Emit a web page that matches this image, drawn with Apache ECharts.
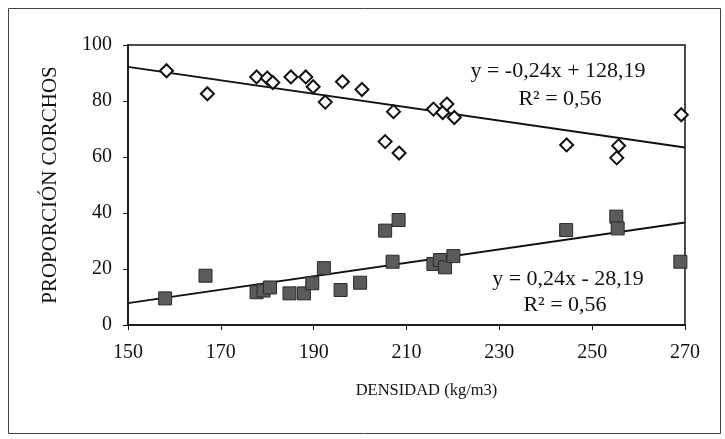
<!DOCTYPE html>
<html>
<head>
<meta charset="utf-8">
<script src="https://cdn.jsdelivr.net/npm/echarts@6/dist/echarts.min.js"></script>
<style>
  html, body { margin: 0; padding: 0; background: #fff; }
  #chart { width: 725px; height: 439px; }
</style>
</head>
<body>
<div id="chart"></div>
<script>
// Open diamonds: proportion (upper group)
const diamondX = [158.3, 167.1, 177.7, 180.0, 181.2, 185.1, 188.3, 189.9, 192.5, 196.2, 200.4, 205.4, 207.2, 208.4, 215.8, 217.8, 218.7, 220.3, 244.5, 255.3, 255.7, 269.2];
const diamondY = [90.8, 82.6, 88.6, 88.2, 86.6, 88.6, 88.6, 85.1, 79.6, 86.9, 84.1, 65.5, 76.2, 61.4, 77.1, 75.9, 78.9, 74.1, 64.3, 59.7, 64.0, 75.1];
// Filled squares: proportion (lower group)
const squareX = [158.0, 166.7, 177.7, 179.2, 180.6, 184.8, 187.9, 189.7, 192.2, 195.8, 200.0, 205.4, 207.0, 208.3, 215.8, 217.2, 218.3, 220.1, 244.4, 255.2, 255.5, 269.0];
const squareY = [9.5, 17.6, 11.7, 12.3, 13.4, 11.3, 11.3, 14.9, 20.3, 12.5, 15.1, 33.7, 22.6, 37.5, 21.8, 23.2, 20.6, 24.6, 33.9, 38.7, 34.5, 22.6];
// Trend lines: [slope, intercept]
const trendDiamond = [-0.24, 128.19];
const trendSquare = [0.24, -28.19];
const xRange = [150, 270];
const xTicks = ['150', '170', '190', '210', '230', '250', '270'];
const yTicks = ['0', '20', '40', '60', '80', '100'];
const eqDiamond = ['y = -0,24x + 128,19', 'R² = 0,56'];
const eqSquare = ['y = 0,24x - 28,19', 'R² = 0,56'];

const pair = (xs, ys) => xs.map((x, i) => [x, ys[i]]);
const trend = (c) => xRange.map(x => [x, c[0] * x + c[1]]);

const FONT = '"Liberation Serif", "DejaVu Serif", serif';
const chart = echarts.init(document.getElementById('chart'), null, { renderer: 'canvas' });

chart.setOption({
  animation: false,
  backgroundColor: '#fff',
  grid: { left: 128, right: 40, top: 45, bottom: 114, show: true, borderColor: '#111', borderWidth: 1.5, backgroundColor: 'transparent' },
  xAxis: {
    type: 'value', min: 150, max: 270, interval: 20,
    name: 'DENSIDAD (kg/m3)', nameLocation: 'middle', nameGap: 57,
    nameTextStyle: { fontFamily: FONT, fontSize: 16.5, color: '#111', padding: [0, 0, 0, 40] },
    axisLine: { lineStyle: { color: '#111', width: 1.5 } },
    axisTick: { inside: false, length: 5, lineStyle: { color: '#111', width: 1 } },
    axisLabel: { fontFamily: FONT, fontSize: 20, color: '#111', margin: 18,
      formatter: v => xTicks[Math.round((v - 150) / 20)] },
    splitLine: { show: false }
  },
  yAxis: {
    type: 'value', min: 0, max: 100, interval: 20,
    name: 'PROPORCIÓN CORCHOS', nameLocation: 'middle', nameGap: 67, nameRotate: 90,
    nameTextStyle: { fontFamily: FONT, fontSize: 21, color: '#111' },
    axisLine: { show: true, lineStyle: { color: '#111', width: 1.5 } },
    axisTick: { show: true, inside: false, length: 5, lineStyle: { color: '#111', width: 1 } },
    axisLabel: { fontFamily: FONT, fontSize: 20, color: '#111', margin: 16,
      formatter: v => yTicks[Math.round(v / 20)] },
    splitLine: { show: false }
  },
  series: [
    { type: 'line', data: trend(trendDiamond), showSymbol: false, symbol: 'none', z: 1,
      lineStyle: { color: '#111', width: 2 } },
    { type: 'line', data: trend(trendSquare), showSymbol: false, symbol: 'none', z: 1,
      lineStyle: { color: '#111', width: 2 } },
    { type: 'scatter', data: pair(diamondX, diamondY), symbol: 'diamond', symbolSize: [13, 13], z: 3,
      itemStyle: { color: '#fff', borderColor: '#111', borderWidth: 2, opacity: 1 } },
    { type: 'scatter', data: pair(squareX, squareY), symbol: 'rect', symbolSize: [13, 13], z: 3,
      itemStyle: { color: '#5b5b5b', borderColor: '#2a2a2a', borderWidth: 1, opacity: 1 } }
  ],
  graphic: [
    { type: 'rect', left: 6, top: 6, shape: { width: 712, height: 425 }, silent: true, z: -1,
      style: { fill: 'none', stroke: '#444', lineWidth: 1 } },
    { type: 'text', x: 558, y: 71, silent: true,
      style: { text: eqDiamond[0], font: '22px ' + FONT, fill: '#111', align: 'center', verticalAlign: 'middle' } },
    { type: 'text', x: 560, y: 99, silent: true,
      style: { text: eqDiamond[1], font: '22px ' + FONT, fill: '#111', align: 'center', verticalAlign: 'middle' } },
    { type: 'text', x: 568, y: 279, silent: true,
      style: { text: eqSquare[0], font: '22px ' + FONT, fill: '#111', align: 'center', verticalAlign: 'middle' } },
    { type: 'text', x: 565, y: 305, silent: true,
      style: { text: eqSquare[1], font: '22px ' + FONT, fill: '#111', align: 'center', verticalAlign: 'middle' } }
  ]
});
</script>
</body>
</html>
